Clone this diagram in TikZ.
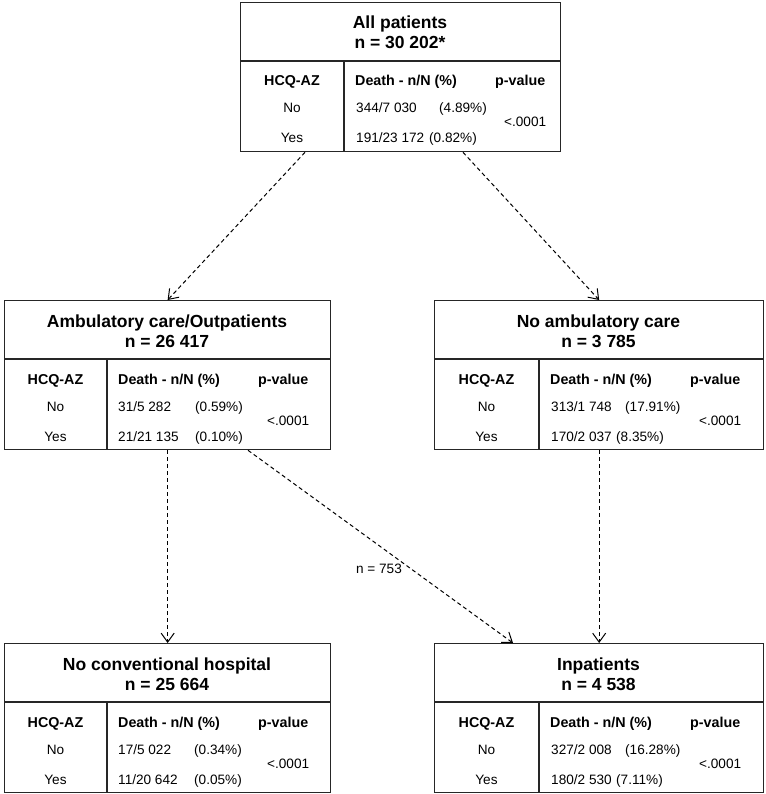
\documentclass[tikz,border=0pt]{standalone}
\usepackage{fontspec}
\setmainfont{Liberation Sans}
\usetikzlibrary{arrows.meta,calc}
\begin{document}
\begin{tikzpicture}[x=1pt,y=-1pt,
  boxframe/.style={draw=black!85, line width=1.3pt, inner sep=0pt, anchor=north west},
  rule/.style={draw=black!85, line width=1.1pt},
  ttl/.style={font=\fontsize{17.5}{20}\selectfont\bfseries, anchor=base, inner sep=0pt},
  hdr/.style={font=\fontsize{14.3}{17}\selectfont\bfseries, anchor=base, inner sep=0pt},
  cell/.style={font=\fontsize{13.6}{16}\selectfont, anchor=base, inner sep=0pt},
  cellL/.style={cell, anchor=base west},
  flow/.style={draw=black, line width=1pt, dash pattern=on 4pt off 3pt,
    -{Straight Barb[length=9pt,width=13pt,line width=1pt]}},
]
\useasboundingbox (0,0) rectangle (765,794);
\newcommand\pbox[7]{%
  \node[boxframe, minimum width={#4pt-#2pt}, minimum height=149pt] (#1) at (#2,#3) {};
  \draw[rule] (#2,#3+59) -- (#4,#3+59);
  \draw[rule] (#5,#3+59) -- (#5,#3+149);
  \node[ttl] (#1-t1) at ({(#2+#4)/2},#3+27) {#6};
  \node[ttl] (#1-t2) at ({(#2+#4)/2},#3+47) {#7};
  \node[hdr] (#1-h1) at ({(#2+#5)/2},#3+84) {HCQ-AZ};
  \node[hdr, anchor=base west] (#1-h2) at (#5+11,#3+84) {Death - n/N (\%)};
  \node[hdr, anchor=base west] (#1-h3) at (#5+151,#3+84) {p-value};
  \node[cell] (#1-no) at ({(#2+#5)/2},#3+111) {No};
  \node[cell] (#1-yes) at ({(#2+#5)/2},#3+141) {Yes};
  \node[cellL] (#1-p) at (#5+160,#3+125) {<.0001};
}

\pbox{top}{240}{2}{560}{344}{All patients}{n = 30 202*}
\node[cellL] (top-a1) at (356,113) {344/7 030};
\node[cellL] (top-b1) at (439,113) {(4.89\%)};
\node[cellL] (top-a2) at (356,143) {191/23 172};
\node[cellL] (top-b2) at (429,143) {(0.82\%)};

\pbox{midL}{4}{300}{330}{107}{Ambulatory care/Outpatients}{n = 26 417}
\node[cellL] (midL-a1) at (118,411) {31/5 282};
\node[cellL] (midL-b1) at (195,411) {(0.59\%)};
\node[cellL] (midL-a2) at (118,441) {21/21 135};
\node[cellL] (midL-b2) at (195,441) {(0.10\%)};

\pbox{midR}{434}{300}{763}{539}{No ambulatory care}{n = 3 785}
\node[cellL] (midR-a1) at (551,411) {313/1 748};
\node[cellL] (midR-b1) at (625,411) {(17.91\%)};
\node[cellL] (midR-a2) at (551,441) {170/2 037};
\node[cellL] (midR-b2) at (616,441) {(8.35\%)};

\pbox{botL}{4}{643}{330}{107}{No conventional hospital}{n = 25 664}
\node[cellL] (botL-a1) at (118,754) {17/5 022};
\node[cellL] (botL-b1) at (194,754) {(0.34\%)};
\node[cellL] (botL-a2) at (118,784) {11/20 642};
\node[cellL] (botL-b2) at (194,784) {(0.05\%)};

\pbox{botR}{434}{643}{763}{539}{Inpatients}{n = 4 538}
\node[cellL] (botR-a1) at (551,754) {327/2 008};
\node[cellL] (botR-b1) at (625,754) {(16.28\%)};
\node[cellL] (botR-a2) at (551,784) {180/2 530};
\node[cellL] (botR-b2) at (616,784) {(7.11\%)};

\draw[flow] ($(top.south west)+(65,0)$) -- (midL.north);
\draw[flow] ($(top.south west)+(223,0)$) -- (midR.north);
\draw[flow] (midL.south) -- (botL.north);
\draw[flow] (midR.south) -- (botR.north);
\draw[flow] ($(midL.south west)+(244,0)$) -- ($(botR.north west)+(79,0)$);
\node[cell] (n753) at (379,573) {n = 753};
\end{tikzpicture}
\end{document}
